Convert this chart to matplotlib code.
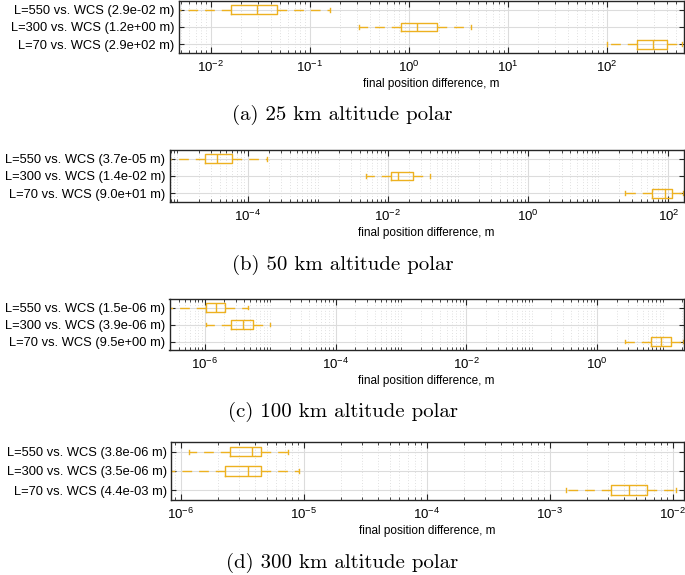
import numpy as np
import matplotlib
matplotlib.use("Agg")
import matplotlib.pyplot as plt
from matplotlib.ticker import LogLocator, NullFormatter

# ---------------- data ----------------
row_labels_a = ["L=550 vs. WCS (2.9e-02 m)", "L=300 vs. WCS (1.2e+00 m)", "L=70 vs. WCS (2.9e+02 m)"]
lo_a = [0.003, 0.31, 100]
q1_a = [0.016, 0.83, 200]
med_a = [0.029, 1.2, 290]
q3_a = [0.046, 1.9, 405]
hi_a = [0.16, 4.2, 575]

row_labels_b = ["L=550 vs. WCS (3.7e-05 m)", "L=300 vs. WCS (1.4e-02 m)", "L=70 vs. WCS (9.0e+01 m)"]
lo_b = [4e-6, 4.9e-3, 24]
q1_b = [2.45e-5, 0.011, 58]
med_b = [3.7e-5, 0.014, 90]
q3_b = [5.9e-5, 0.023, 111]
hi_b = [1.88e-4, 0.040, 160]

row_labels_c = ["L=550 vs. WCS (1.5e-06 m)", "L=300 vs. WCS (3.9e-06 m)", "L=70 vs. WCS (9.5e+00 m)"]
lo_c = [1.5e-7, 1.06e-6, 2.7]
q1_c = [1.03e-6, 2.5e-6, 6.6]
med_c = [1.5e-6, 3.9e-6, 9.5]
q3_c = [2.06e-6, 5.4e-6, 13.2]
hi_c = [4.6e-6, 9.8e-6, 20.5]

row_labels_d = ["L=550 vs. WCS (3.8e-06 m)", "L=300 vs. WCS (3.5e-06 m)", "L=70 vs. WCS (4.4e-03 m)"]
lo_d = [1.17e-6, 6e-7, 1.35e-3]
q1_d = [2.54e-6, 2.29e-6, 3.18e-3]
med_d = [3.8e-6, 3.5e-6, 4.4e-3]
q3_d = [4.54e-6, 4.47e-6, 6.2e-3]
hi_d = [7.4e-6, 9.1e-6, 0.0107]

captions = ["(a) 25 km altitude polar", "(b) 50 km altitude polar",
            "(c) 100 km altitude polar", "(d) 300 km altitude polar"]
xlabel_text = "final position difference, m"

# ---------------- style ----------------
W, H = 685, 575
BOX = "#EDB120"
EDGE = "#262626"
plt.rcParams['font.family'] = ['Liberation Sans', 'DejaVu Sans']
plt.rcParams['mathtext.fontset'] = 'custom'
plt.rcParams['mathtext.rm'] = 'Liberation Sans'
plt.rcParams['mathtext.it'] = 'Liberation Sans'

fig = plt.figure(figsize=(W / 100, H / 100), dpi=100)

panels = [
    dict(labels=row_labels_a, lo=lo_a, q1=q1_a, med=med_a, q3=q3_a, hi=hi_a,
         xlim=(0.0047, 590), step=1, box=(178.5, 683.5, 1, 53), cap_y=115),
    dict(labels=row_labels_b, lo=lo_b, q1=q1_b, med=med_b, q3=q3_b, hi=hi_b,
         xlim=(7.7e-6, 165), step=2, box=(169.5, 683.7, 150, 202), cap_y=265),
    dict(labels=row_labels_c, lo=lo_c, q1=q1_c, med=med_c, q3=q3_c, hi=hi_c,
         xlim=(2.9e-7, 21), step=2, box=(169.5, 683.7, 299, 350), cap_y=412),
    dict(labels=row_labels_d, lo=lo_d, q1=q1_d, med=med_d, q3=q3_d, hi=hi_d,
         xlim=(8.4e-7, 0.0123), step=1, box=(171.3, 683.7, 442, 500), cap_y=563),
]

for p, cap in zip(panels, captions):
    x0, x1, yt, yb = p['box']
    ax = fig.add_axes([x0 / W, 1 - yb / H, (x1 - x0) / W, (yb - yt) / H])
    positions = [3, 2, 1]
    stats = []
    for i in range(3):
        stats.append(dict(whislo=p['lo'][i], q1=p['q1'][i], med=p['med'][i],
                          q3=p['q3'][i], whishi=p['hi'][i], fliers=[]))
    ax.bxp(stats, positions=positions, vert=False, widths=0.5, capwidths=0.22,
           showfliers=False,
           boxprops=dict(color=BOX, linewidth=1.0),
           medianprops=dict(color=BOX, linewidth=1.0),
           whiskerprops=dict(color=BOX, linewidth=1.0, linestyle=(0, (7, 5))),
           capprops=dict(color=BOX, linewidth=1.0))
    ax.set_xscale('log')
    ax.set_xlim(*p['xlim'])
    ax.set_ylim(0.5, 3.5)
    ax.set_yticks(positions)
    ax.set_yticklabels(p['labels'], fontsize=9.3, color='black')
    lo_e = int(np.floor(np.log10(p['xlim'][0])))
    hi_e = int(np.ceil(np.log10(p['xlim'][1])))
    if p['step'] == 2:
        majors = [10.0 ** e for e in range(lo_e, hi_e + 1) if e % 2 == 0]
    else:
        majors = [10.0 ** e for e in range(lo_e, hi_e + 1)]
    ax.set_xticks(majors)
    ax.xaxis.set_minor_locator(LogLocator(base=10, subs=np.arange(1, 10), numticks=200))
    ax.xaxis.set_minor_formatter(NullFormatter())
    ax.set_xlim(*p['xlim'])
    ax.tick_params(axis='both', which='both', direction='in', top=True, right=True,
                   colors=EDGE, labelcolor='black')
    ax.tick_params(axis='x', which='major', length=4, labelsize=9.5, pad=5)
    ax.tick_params(axis='x', which='minor', length=2.5)
    ax.tick_params(axis='y', which='major', length=3.5, pad=3)
    ax.grid(True, which='major', axis='both', color='#dcdcdc', linewidth=0.8)
    ax.grid(True, which='minor', axis='x', color='#c4c4c4', linewidth=0.5, linestyle=(0, (1, 3)))
    ax.set_axisbelow(True)
    for s in ax.spines.values():
        s.set_color(EDGE)
        s.set_linewidth(1.0)
    ax.set_xlabel(xlabel_text, fontsize=8.5, labelpad=2)
    fig.text(0.5, 1 - p['cap_y'] / H, cap, ha='center', va='center',
             fontsize=15, family='cmr10')

fig.savefig("out.png", dpi=100)
